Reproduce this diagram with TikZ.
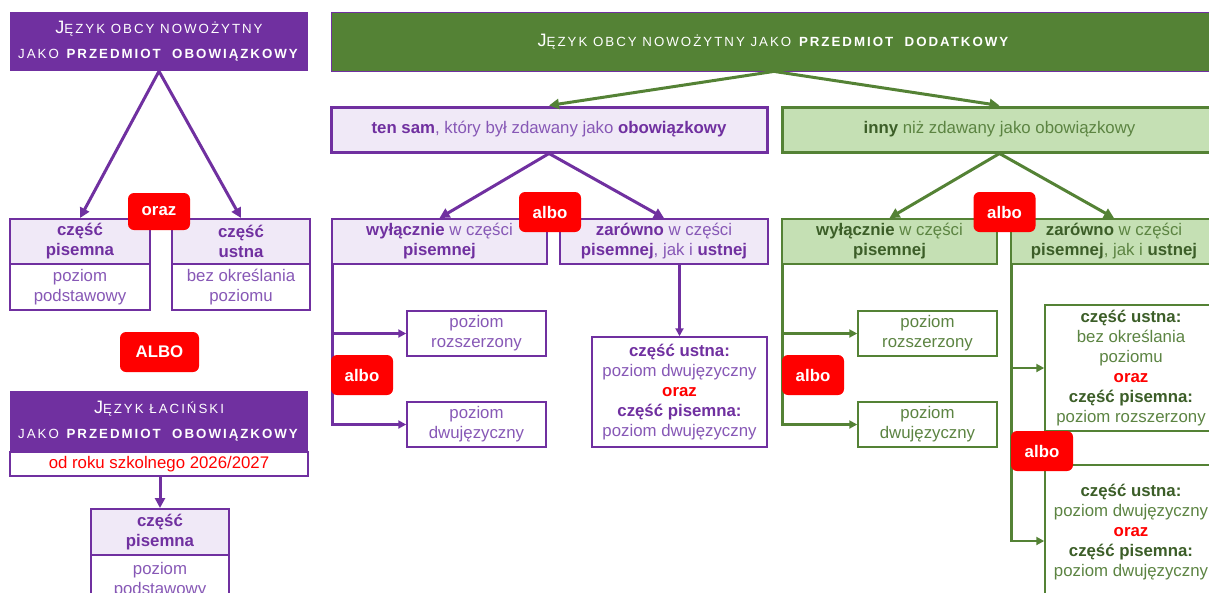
\documentclass[tikz,border=0pt]{standalone}
\usepackage{fontspec}
\setmainfont{Liberation Sans}
\newfontfamily\capsfont[LetterSpace=15]{Liberation Sans}
\usetikzlibrary{arrows.meta}
\definecolor{P}{RGB}{112,48,160}
\definecolor{PL}{RGB}{240,233,247}
\definecolor{PT}{RGB}{135,88,182}
\definecolor{G}{RGB}{84,130,53}
\definecolor{GL}{RGB}{197,224,180}
\definecolor{GD}{RGB}{60,94,40}
\definecolor{GT}{RGB}{92,132,66}
\definecolor{R}{RGB}{255,0,0}
\def\Xsize{1209}
\def\Ysize{592}
\def\BigJ{{\fontsize{18}{25}\selectfont J}}
\def\bP#1{\textbf{\textcolor{P}{#1}}}
\def\bG#1{\textbf{\textcolor{GD}{#1}}}
\def\orz{\textbf{\textcolor{R}{oraz}}}

\begin{document}
\begin{tikzpicture}[x=1pt,y=-1pt,
    every node/.style={inner sep=0pt,align=center,font=\fontsize{16.8}{20}\selectfont},
    hdr/.style={fill=#1,text=white,font=\capsfont\fontsize{13.3}{25}\selectfont},
    boxP/.style={fill=PL,draw=P,line width=2pt,text=PT},
    lowP/.style={fill=white,draw=P,line width=1.5pt,text=PT},
    boxG/.style={fill=GL,draw=G,line width=2pt,text=GT},
    lowG/.style={fill=white,draw=G,line width=1.5pt,text=GT},
    tag/.style={fill=R,rounded corners=6pt,text=white,font=\fontsize{16.8}{20}\selectfont\bfseries,minimum width=62pt,minimum height=40pt},
    arrP/.style={draw=P,line width=3pt,-{Triangle[length=10pt,width=10pt]}},
    arrG/.style={draw=G,line width=3pt,-{Triangle[length=10pt,width=10pt]}},
    lineP/.style={draw=P,line width=2.2pt,-{Triangle[length=8pt,width=8pt]}},
    lineG/.style={draw=G,line width=2.2pt,-{Triangle[length=8pt,width=8pt]}}]
    \path[use as bounding box] (0,0) rectangle (\Xsize,\Ysize);
    \clip (0,0) rectangle (\Xsize,\Ysize);
    % left column
    \node[hdr=P,minimum width=298pt,minimum height=59pt] (hdrL) at (159,41.5) {\BigJ ĘZYK OBCY NOWOŻYTNY\\JAKO \textbf{PRZEDMIOT\ \ OBOWIĄZKOWY}};
    \node[boxP,minimum width=140pt,minimum height=45pt] (pisL) at (80,241.5) {\bP{część}\\\bP{pisemna}};
    \node[lowP,minimum width=140pt,minimum height=46pt] (pisLb) at (80,287) {poziom\\podstawowy};
    \node[boxP,minimum width=138pt,minimum height=45pt] (ustL) at (241,241.5) {\bP{część}\\\bP{ustna}};
    \node[lowP,minimum width=138pt,minimum height=46pt] (ustLb) at (241,287) {bez określania\\poziomu};
    \node[hdr=P,minimum width=298pt,minimum height=61pt] (hdrLat) at (159,421.5) {\BigJ ĘZYK ŁACIŃSKI\\JAKO \textbf{PRZEDMIOT\ \ OBOWIĄZKOWY}};
    \node[lowP,text=R,minimum width=298pt,minimum height=24pt] (latB) at (159,464) {od roku szkolnego 2026/2027};
    \node[boxP,minimum width=138pt,minimum height=46pt] (pisLat) at (160,532) {\bP{część}\\\bP{pisemna}};
    \node[lowP,minimum width=138pt,minimum height=50pt] (pisLatb) at (160,580) {poziom\\podstawowy};
    % przedmiot dodatkowy
    \node[hdr=G,draw=P,line width=0.8pt,minimum width=886pt,minimum height=59pt] (hdrG) at (774,41.5) {\BigJ ĘZYK OBCY NOWOŻYTNY JAKO \textbf{PRZEDMIOT\ \ DODATKOWY}};
    \node[boxP,line width=3pt,minimum width=436pt,minimum height=45pt] (samP) at (549,129.5) {\bP{ten sam}, który był zdawany jako \bP{obowiązkowy}};
    \node[boxG,line width=3pt,minimum width=435pt,minimum height=45pt] (innyG) at (999.5,129.5) {\bG{inny} niż zdawany jako obowiązkowy};
    % ten sam
    \node[boxP,minimum width=215pt,minimum height=45pt] (wylP) at (439.5,241.5) {\bP{wyłącznie} w części\\\bP{pisemnej}};
    \node[boxP,minimum width=208pt,minimum height=45pt] (zarP) at (664,241.5) {\bP{zarówno} w części\\\bP{pisemnej}, jak i \bP{ustnej}};
    \node[lowP,minimum width=139pt,minimum height=45pt] (rozP) at (476.5,333.5) {poziom\\rozszerzony};
    \node[lowP,minimum width=139pt,minimum height=45pt] (dwuP) at (476.5,424.5) {poziom\\dwujęzyczny};
    \node[lowP,minimum width=175pt,minimum height=110pt] (ustpisP) at (679.5,392) {\bP{część ustna:}\\poziom dwujęzyczny\\\orz\\\bP{część pisemna:}\\poziom dwujęzyczny};
    % inny
    \node[boxG,minimum width=215pt,minimum height=45pt] (wylG) at (889.5,241.5) {\bG{wyłącznie} w części\\\bG{pisemnej}};
    \node[boxG,minimum width=206pt,minimum height=45pt] (zarG) at (1114,241.5) {\bG{zarówno} w części\\\bG{pisemnej}, jak i \bG{ustnej}};
    \node[lowG,minimum width=139pt,minimum height=45pt] (rozG) at (927.5,333.5) {poziom\\rozszerzony};
    \node[lowG,minimum width=139pt,minimum height=45pt] (dwuG) at (927.5,424.5) {poziom\\dwujęzyczny};
    \node[lowG,minimum width=172pt,minimum height=126pt] (ub1G) at (1131,368) {\bG{część ustna:}\\bez określania\\poziomu\\\orz\\\bG{część pisemna:}\\poziom rozszerzony};
    \node[lowG,minimum width=172pt,minimum height=135pt] (ub2G) at (1131,532.5) {\bG{część ustna:}\\poziom dwujęzyczny\\\orz\\\bG{część pisemna:}\\poziom dwujęzyczny};
    % connectors
    \foreach \T in {pisL,ustL} {\draw[arrP] (hdrL.south)--(\T.north);}
    \draw[arrP] (latB.south -| pisLat.north)--(pisLat.north);
    \draw[arrG] (hdrG.south)--(samP.north);
    \draw[arrG] (hdrG.south)--(innyG.north);
    \foreach \T in {wylP,zarP} {\draw[arrP] (samP.south)--(\T.north);}
    \foreach \T in {wylG,zarG} {\draw[arrG] (innyG.south)--(\T.north);}
    \foreach \T in {rozP,dwuP} {\draw[lineP] ([xshift=1.5pt]wylP.south west) |- (\T.west);}
    \foreach \T in {rozG,dwuG} {\draw[lineG] ([xshift=1.5pt]wylG.south west) |- (\T.west);}
    \draw[lineP] (zarP.south -| ustpisP.north)--(ustpisP.north);
    \draw[lineG] ([xshift=1.5pt]zarG.south west) |- (ub1G.west);
    \draw[lineG] ([xshift=1.5pt]zarG.south west) |- ([yshift=-8.5pt]ub2G.west);
    % tags
    \node[tag,minimum height=37pt] (orazL) at (159,211.5) {oraz};
    \node[tag,minimum width=79pt] (alboL) at (159.5,352) {ALBO};
    \node[tag] (alboP1) at (550,212) {albo};
    \node[tag] (alboP2) at (362,375) {albo};
    \node[tag] (alboG1) at (1004.5,212) {albo};
    \node[tag] (alboG2) at (813,375) {albo};
    \node[tag] (alboG3) at (1042,451) {albo};
\end{tikzpicture}
\end{document}
